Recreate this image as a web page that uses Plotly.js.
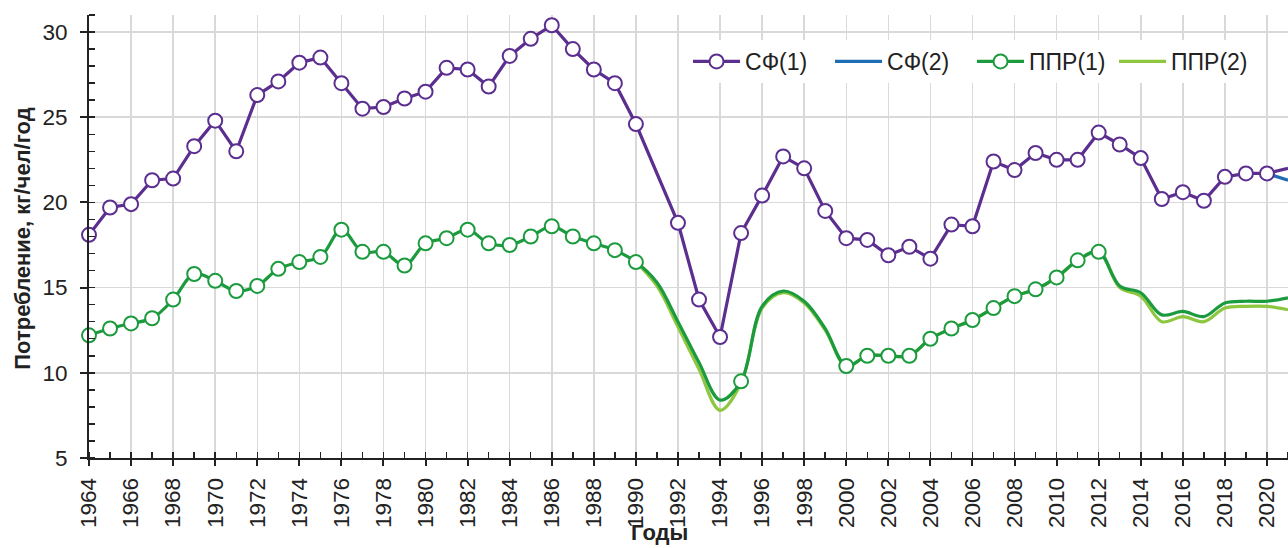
<!DOCTYPE html>
<html><head><meta charset="utf-8">
<script src="https://cdn.plot.ly/plotly-3.0.1.min.js"></script>
<style>html,body{margin:0;padding:0;background:#fff}#chart{width:1288px;height:548px}</style>
</head><body><div id="chart"></div>
<script>
const years = [1964,1965,1966,1967,1968,1969,1970,1971,1972,1973,
  1974,1975,1976,1977,1978,1979,1980,1981,1982,1983,
  1984,1985,1986,1987,1988,1989,1990,1991,1992,1993,
  1994,1995,1996,1997,1998,1999,2000,2001,2002,2003,
  2004,2005,2006,2007,2008,2009,2010,2011,2012,2013,
  2014,2015,2016,2017,2018,2019,2020,2021];

// СФ(1): observed values (with markers)
const sf1Obs = [18.1,19.7,19.9,21.3,21.4,23.3,24.8,23.0,26.3,27.1,
  28.2,28.5,27.0,25.5,25.6,26.1,26.5,27.9,27.8,26.8,
  28.6,29.6,30.4,29.0,27.8,27.0,24.6,null,18.8,14.3,
  12.1,18.2,20.4,22.7,22.0,19.5,17.9,17.8,16.9,17.4,
  16.7,18.7,18.6,22.4,21.9,22.9,22.5,22.5,24.1,23.4,
  22.6,20.2,20.6,20.1,21.5,21.7,21.7,null];
const sf1EstYears = [2021];
const sf1EstValues = [22.0];

// СФ(2)
const sf2Years = [2020, 2021];
const sf2Values = [21.7, 21.3];

// ППР(1): observed values (with markers)
const ppr1Obs = [12.2,12.6,12.9,13.2,14.3,15.8,15.4,14.8,15.1,16.1,
  16.5,16.8,18.4,17.1,17.1,16.3,17.6,17.9,18.4,17.6,
  17.5,18.0,18.6,18.0,17.6,17.2,16.5,null,null,null,
  null,9.5,null,null,null,null,10.4,11.0,11.0,11.0,
  12.0,12.6,13.1,13.8,14.5,14.9,15.6,16.6,17.1,null,
  null,null,null,null,null,null,null,null];
const ppr1EstYears = [1991,1992,1993,1994,1996,1997,1998,1999,2013,2014,2015,2016,2017,2018,2019,2020,2021];
const ppr1EstValues = [15.3,13.0,10.6,8.4,13.9,14.8,14.2,12.6,15.1,14.7,13.4,13.6,13.3,14.1,14.2,14.2,14.4];

// ППР(2)
const ppr2Years = [1990,1991,1992,1993,1994,1995,1996,1997,1998,1999,
  2000,2001,2002,2003,2004,2005,2006,2007,2008,2009,
  2010,2011,2012,2013,2014,2015,2016,2017,2018,2019,2020,2021];
const ppr2Values = [16.5,15.1,12.7,10.2,7.8,9.4,13.8,14.7,14.1,12.5,
  10.4,11.0,11.0,11.0,12.0,12.6,13.1,13.8,14.5,14.9,
  15.6,16.6,17.1,15.0,14.5,13.0,13.3,13.0,13.8,13.9,13.9,13.7];

const yTicks = [5, 10, 15, 20, 25, 30];
const xTitle = 'Годы';
const yTitle = 'Потребление, кг/чел/год';

function merge(obs, estYears, estValues) {
  return obs.map(function (v, i) {
    if (v !== null) return v;
    const k = estYears.indexOf(years[i]);
    return k >= 0 ? estValues[k] : null;
  });
}
function fills(obs) { return obs.map(v => v !== null ? '#ffffff' : 'rgba(0,0,0,0)'); }
function edges(obs, c) { return obs.map(v => v !== null ? c : 'rgba(0,0,0,0)'); }

const C_SF1 = '#5b2e8f', C_SF2 = '#1f6db5', C_PPR1 = '#1c9b3e', C_PPR2 = '#8dc63f';
const FONT = 'Liberation Sans, Arial, sans-serif';

const traces = [
  { x: ppr2Years, y: ppr2Values, name: 'ППР(2)', mode: 'lines', legendrank: 4,
    line: { color: C_PPR2, width: 3.2, shape: 'spline', smoothing: 1 } },
  { x: years, y: merge(ppr1Obs, ppr1EstYears, ppr1EstValues), name: 'ППР(1)', mode: 'lines+markers', legendrank: 3,
    line: { color: C_PPR1, width: 3.2, shape: 'spline', smoothing: 1 },
    marker: { size: 14, symbol: 'circle', color: fills(ppr1Obs), line: { width: 2, color: edges(ppr1Obs, C_PPR1) } },
    cliponaxis: false },
  { x: sf2Years, y: sf2Values, name: 'СФ(2)', mode: 'lines', legendrank: 2,
    line: { color: C_SF2, width: 3.2 } },
  { x: years, y: merge(sf1Obs, sf1EstYears, sf1EstValues), name: 'СФ(1)', mode: 'lines+markers', legendrank: 1,
    connectgaps: true,
    line: { color: C_SF1, width: 3.2 },
    marker: { size: 14, symbol: 'circle', color: fills(sf1Obs), line: { width: 2, color: edges(sf1Obs, C_SF1) } },
    cliponaxis: false }
];

const axisCommon = {
  showline: true, linecolor: '#222', linewidth: 2,
  ticks: 'outside', tickcolor: '#222', tickwidth: 2,
  gridcolor: '#d9d9d9', gridwidth: 1.5, zeroline: false,
  tickfont: { family: FONT, size: 22.5, color: '#222' }
};

const layout = {
  width: 1288, height: 548,
  margin: { l: 89, r: 0, t: 15, b: 90 },
  paper_bgcolor: '#fff', plot_bgcolor: '#fff',
  font: { family: FONT, size: 22.5, color: '#222' },
  showlegend: true,
  legend: { orientation: 'h', x: 0.4996, xanchor: 'left', y: 0.895, yanchor: 'middle',
    bgcolor: '#ffffff', font: { family: FONT, size: 23, color: '#222' }, itemwidth: 47,
    entrywidth: 80, entrywidthmode: 'pixels' },
  xaxis: Object.assign({}, axisCommon, {
    range: [1964, 2021], tickmode: 'linear', tick0: 1964, dtick: 2, tickangle: -90,
    ticklen: 6, ticklabelstandoff: 3,
    minor: { tick0: 1964, dtick: 1, ticks: 'inside', ticklen: 6, tickwidth: 1.5, tickcolor: '#222', showgrid: false }
  }),
  yaxis: Object.assign({}, axisCommon, {
    range: [5, 31], tickmode: 'array', tickvals: yTicks, ticktext: yTicks.map(String),
    ticklen: 7, ticklabelstandoff: 8,
    minor: { tick0: 5, dtick: 1, ticks: 'inside', ticklen: 6, tickwidth: 1.5, tickcolor: '#222', showgrid: false }
  }),
  xaxis2: { overlaying: 'x', anchor: 'y2', range: [1964, 2021], tickmode: 'linear', tick0: 1964, dtick: 2,
    ticks: 'inside', ticklen: 6, tickwidth: 2, tickcolor: '#222', showticklabels: false,
    showgrid: false, showline: false, zeroline: false },
  yaxis2: { overlaying: 'y', anchor: 'x2', range: [5, 31], tickmode: 'array', tickvals: yTicks,
    ticks: 'inside', ticklen: 6, tickwidth: 2, tickcolor: '#222', showticklabels: false,
    showgrid: false, showline: false, zeroline: false },
  annotations: [
    { text: '<b>' + yTitle + '</b>', xref: 'paper', yref: 'paper', x: -0.055, y: 0.495,
      xanchor: 'center', yanchor: 'middle', textangle: -90, showarrow: false,
      font: { family: FONT, size: 22, color: '#222' } },
    { text: '<b>' + xTitle + '</b>', xref: 'paper', yref: 'paper', x: 0.476, y: -0.169,
      xanchor: 'center', yanchor: 'middle', showarrow: false,
      font: { family: FONT, size: 22, color: '#222' } }
  ]
};

Plotly.newPlot('chart', traces, layout, { staticPlot: true, displayModeBar: false });
</script></body></html>
